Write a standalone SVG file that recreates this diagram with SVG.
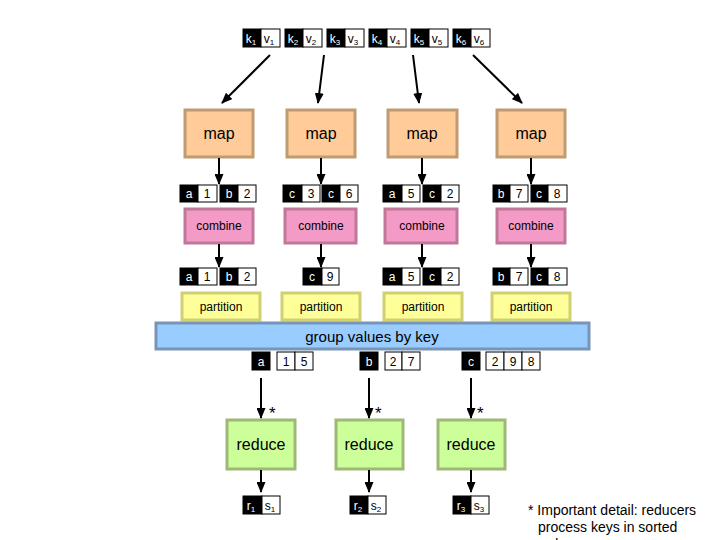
<svg xmlns="http://www.w3.org/2000/svg" width="720" height="540" viewBox="0 0 720 540">
<style>
text{font-family:"Liberation Sans",Arial,sans-serif;fill:#000}
.k{fill:#000;stroke:#000;stroke-width:1}
.v{fill:#fff;stroke:#000;stroke-width:1}
.kt{fill:#fff;font-size:12px;text-anchor:middle}
.vt{fill:#000;font-size:12px;text-anchor:middle}
.sub{font-size:8px}
.map{fill:#FFCC99;stroke:#BF9B73;stroke-width:3}
.comb{fill:#F49AC6;stroke:#C07898;stroke-width:3}
.part{fill:#FFFF99;stroke:#CFCF73;stroke-width:3}
.grp{fill:#99CCFF;stroke:#7895B8;stroke-width:3}
.red{fill:#CCFF99;stroke:#9EB877;stroke-width:3}
.big{font-size:16px;text-anchor:middle}
.mid{font-size:12px;text-anchor:middle}
.star{font-size:17px}
.arr{stroke:#000;stroke-width:2;fill:none;marker-end:url(#ah)}
</style>
<defs>
<marker id="ah" markerUnits="userSpaceOnUse" markerWidth="11" markerHeight="9" refX="10" refY="4.5" orient="auto">
<path d="M0,0 L11,4.5 L0,9 z" fill="#000"/>
</marker>
</defs>

<g id="inputs">
<rect class="k" x="243" y="29" width="18" height="18"/><rect class="v" x="261" y="29" width="19" height="18"/>
<text class="kt" x="251" y="43">k<tspan class="sub" dy="2">1</tspan></text><text class="vt" x="269" y="43">v<tspan class="sub" dy="2">1</tspan></text>
<rect class="k" x="285" y="29" width="18" height="18"/><rect class="v" x="303" y="29" width="19" height="18"/>
<text class="kt" x="293" y="43">k<tspan class="sub" dy="2">2</tspan></text><text class="vt" x="311" y="43">v<tspan class="sub" dy="2">2</tspan></text>
<rect class="k" x="327" y="29" width="18" height="18"/><rect class="v" x="345" y="29" width="19" height="18"/>
<text class="kt" x="335" y="43">k<tspan class="sub" dy="2">3</tspan></text><text class="vt" x="353" y="43">v<tspan class="sub" dy="2">3</tspan></text>
<rect class="k" x="369" y="29" width="18" height="18"/><rect class="v" x="387" y="29" width="19" height="18"/>
<text class="kt" x="377" y="43">k<tspan class="sub" dy="2">4</tspan></text><text class="vt" x="395" y="43">v<tspan class="sub" dy="2">4</tspan></text>
<rect class="k" x="411" y="29" width="18" height="18"/><rect class="v" x="429" y="29" width="19" height="18"/>
<text class="kt" x="419" y="43">k<tspan class="sub" dy="2">5</tspan></text><text class="vt" x="437" y="43">v<tspan class="sub" dy="2">5</tspan></text>
<rect class="k" x="453" y="29" width="18" height="18"/><rect class="v" x="471" y="29" width="19" height="18"/>
<text class="kt" x="461" y="43">k<tspan class="sub" dy="2">6</tspan></text><text class="vt" x="479" y="43">v<tspan class="sub" dy="2">6</tspan></text>
</g>

<g id="map1"><rect class="map" x="185" y="110" width="68" height="47"/><text class="big" x="219" y="139">map</text></g>
<g id="map2"><rect class="map" x="287" y="110" width="68" height="47"/><text class="big" x="321" y="139">map</text></g>
<g id="map3"><rect class="map" x="388" y="110" width="69" height="47"/><text class="big" x="422" y="139">map</text></g>
<g id="map4"><rect class="map" x="497" y="110" width="68" height="47"/><text class="big" x="531" y="139">map</text></g>

<g id="kv1">
<rect class="k" x="180" y="185" width="18" height="17"/><rect class="v" x="198" y="185" width="19" height="17"/>
<rect class="k" x="220" y="185" width="18" height="17"/><rect class="v" x="238" y="185" width="18" height="17"/>
<text class="kt" x="189" y="198">a</text><text class="vt" x="207" y="198">1</text><text class="kt" x="229" y="198">b</text><text class="vt" x="247" y="198">2</text>
<rect class="k" x="283" y="185" width="19" height="17"/><rect class="v" x="302" y="185" width="18" height="17"/>
<rect class="k" x="322" y="185" width="18" height="17"/><rect class="v" x="340" y="185" width="18" height="17"/>
<text class="kt" x="292" y="198">c</text><text class="vt" x="311" y="198">3</text><text class="kt" x="331" y="198">c</text><text class="vt" x="349" y="198">6</text>
<rect class="k" x="383" y="185" width="19" height="17"/><rect class="v" x="402" y="185" width="18" height="17"/>
<rect class="k" x="423" y="185" width="18" height="17"/><rect class="v" x="441" y="185" width="18" height="17"/>
<text class="kt" x="392" y="198">a</text><text class="vt" x="411" y="198">5</text><text class="kt" x="432" y="198">c</text><text class="vt" x="450" y="198">2</text>
<rect class="k" x="493" y="185" width="17" height="17"/><rect class="v" x="510" y="185" width="18" height="17"/>
<rect class="k" x="531" y="185" width="17" height="17"/><rect class="v" x="548" y="185" width="19" height="17"/>
<text class="kt" x="501" y="198">b</text><text class="vt" x="519" y="198">7</text><text class="kt" x="539" y="198">c</text><text class="vt" x="557" y="198">8</text>
</g>

<g id="combine1"><rect class="comb" x="185" y="209" width="68" height="34"/><text class="mid" x="219" y="230">combine</text></g>
<g id="combine2"><rect class="comb" x="285" y="209" width="71" height="34"/><text class="mid" x="321" y="230">combine</text></g>
<g id="combine3"><rect class="comb" x="385" y="209" width="72" height="34"/><text class="mid" x="422" y="230">combine</text></g>
<g id="combine4"><rect class="comb" x="497" y="209" width="68" height="34"/><text class="mid" x="531" y="230">combine</text></g>

<g id="kv2">
<rect class="k" x="180" y="268" width="18" height="17"/><rect class="v" x="198" y="268" width="19" height="17"/>
<rect class="k" x="220" y="268" width="18" height="17"/><rect class="v" x="238" y="268" width="18" height="17"/>
<text class="kt" x="189" y="281">a</text><text class="vt" x="207" y="281">1</text><text class="kt" x="229" y="281">b</text><text class="vt" x="247" y="281">2</text>
<rect class="k" x="303" y="268" width="19" height="17"/><rect class="v" x="322" y="268" width="17" height="17"/>
<text class="kt" x="312" y="281">c</text><text class="vt" x="330" y="281">9</text>
<rect class="k" x="383" y="268" width="19" height="17"/><rect class="v" x="402" y="268" width="18" height="17"/>
<rect class="k" x="423" y="268" width="18" height="17"/><rect class="v" x="441" y="268" width="18" height="17"/>
<text class="kt" x="392" y="281">a</text><text class="vt" x="411" y="281">5</text><text class="kt" x="432" y="281">c</text><text class="vt" x="450" y="281">2</text>
<rect class="k" x="493" y="268" width="17" height="17"/><rect class="v" x="510" y="268" width="18" height="17"/>
<rect class="k" x="531" y="268" width="17" height="17"/><rect class="v" x="548" y="268" width="19" height="17"/>
<text class="kt" x="501" y="281">b</text><text class="vt" x="519" y="281">7</text><text class="kt" x="539" y="281">c</text><text class="vt" x="557" y="281">8</text>
</g>

<g id="partition1"><rect class="part" x="182" y="293" width="78" height="27"/><text class="mid" x="221" y="311">partition</text></g>
<g id="partition2"><rect class="part" x="282" y="293" width="78" height="27"/><text class="mid" x="321" y="311">partition</text></g>
<g id="partition3"><rect class="part" x="384" y="293" width="78" height="27"/><text class="mid" x="423" y="311">partition</text></g>
<g id="partition4"><rect class="part" x="492" y="293" width="78" height="27"/><text class="mid" x="531" y="311">partition</text></g>

<g id="group"><rect class="grp" x="156" y="323" width="433" height="26"/><text x="372" y="342" style="font-size:15px;text-anchor:middle">group values by key</text></g>

<g id="grouped">
<rect class="k" x="252" y="352" width="18" height="18"/><text class="kt" x="261" y="366">a</text>
<rect class="v" x="277" y="352" width="18" height="18"/><rect class="v" x="295" y="352" width="18" height="18"/>
<text class="vt" x="286" y="366">1</text><text class="vt" x="304" y="366">5</text>
<rect class="k" x="360" y="352" width="18" height="18"/><text class="kt" x="369" y="366">b</text>
<rect class="v" x="385" y="352" width="17" height="18"/><rect class="v" x="402" y="352" width="18" height="18"/>
<text class="vt" x="393" y="366">2</text><text class="vt" x="411" y="366">7</text>
<rect class="k" x="462" y="352" width="18" height="18"/><text class="kt" x="471" y="366">c</text>
<rect class="v" x="486" y="352" width="18" height="18"/><rect class="v" x="504" y="352" width="18" height="18"/><rect class="v" x="522" y="352" width="18" height="18"/>
<text class="vt" x="495" y="366">2</text><text class="vt" x="513" y="366">9</text><text class="vt" x="531" y="366">8</text>
</g>

<g id="reduce1"><rect class="red" x="227" y="420" width="68" height="49"/><text class="big" x="261" y="450">reduce</text></g>
<g id="reduce2"><rect class="red" x="336" y="420" width="67" height="49"/><text class="big" x="369" y="450">reduce</text></g>
<g id="reduce3"><rect class="red" x="438" y="420" width="67" height="49"/><text class="big" x="471" y="450">reduce</text></g>

<g id="outputs">
<rect class="k" x="243" y="496" width="19" height="18"/><rect class="v" x="262" y="496" width="18" height="18"/>
<text class="kt" x="251" y="510">r<tspan class="sub" dy="2">1</tspan></text><text class="vt" x="270" y="510">s<tspan class="sub" dy="2">1</tspan></text>
<rect class="k" x="350" y="496" width="18" height="18"/><rect class="v" x="368" y="496" width="18" height="18"/>
<text class="kt" x="358" y="510">r<tspan class="sub" dy="2">2</tspan></text><text class="vt" x="376" y="510">s<tspan class="sub" dy="2">2</tspan></text>
<rect class="k" x="453" y="496" width="18" height="18"/><rect class="v" x="471" y="496" width="18" height="18"/>
<text class="kt" x="461" y="510">r<tspan class="sub" dy="2">3</tspan></text><text class="vt" x="479" y="510">s<tspan class="sub" dy="2">3</tspan></text>
</g>

<g id="connectors">
<line class="arr" x1="270" y1="55" x2="222" y2="103"/>
<line class="arr" x1="324" y1="55" x2="318" y2="103"/>
<line class="arr" x1="413" y1="55" x2="419" y2="103"/>
<line class="arr" x1="473" y1="55" x2="522" y2="103"/>
<line class="arr" x1="219" y1="158" x2="219" y2="184"/>
<line class="arr" x1="321" y1="158" x2="321" y2="184"/>
<line class="arr" x1="422" y1="158" x2="422" y2="184"/>
<line class="arr" x1="531" y1="158" x2="531" y2="184"/>
<line class="arr" x1="219" y1="244" x2="219" y2="267"/>
<line class="arr" x1="321" y1="244" x2="321" y2="267"/>
<line class="arr" x1="422" y1="244" x2="422" y2="267"/>
<line class="arr" x1="531" y1="244" x2="531" y2="267"/>
<line class="arr" x1="261" y1="378" x2="261" y2="418"/>
<line class="arr" x1="369" y1="378" x2="369" y2="418"/>
<line class="arr" x1="471" y1="378" x2="471" y2="418"/>
<line class="arr" x1="261" y1="470" x2="261" y2="492"/>
<line class="arr" x1="369" y1="470" x2="369" y2="492"/>
<line class="arr" x1="471" y1="470" x2="471" y2="492"/>
<text class="star" x="269" y="419">*</text>
<text class="star" x="375" y="419">*</text>
<text class="star" x="477" y="419">*</text>
</g>

<g id="note" style="font-size:14px">
<text x="528" y="515">* Important detail: reducers</text>
<text x="538" y="532">process keys in sorted</text>
<text x="538" y="549">order.</text>
</g>
</svg>
